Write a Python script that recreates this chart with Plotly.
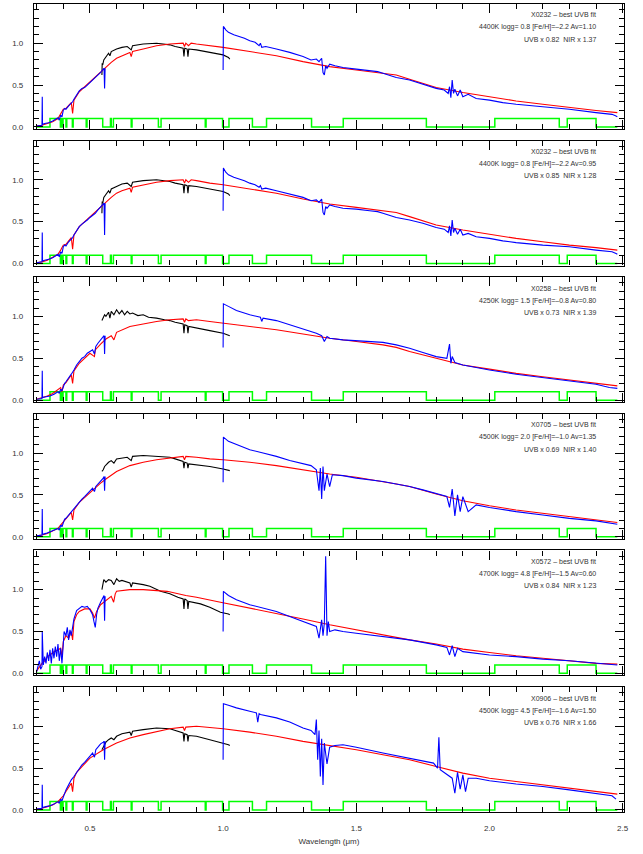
import plotly.graph_objects as go
from plotly.subplots import make_subplots

# ---------------- mask (green step function) ----------------
MASK_W = [0.300, 0.350, 0.389, 0.392, 0.396, 0.399, 0.410, 0.413, 0.434, 0.437,
          0.486, 0.489, 0.548, 0.577, 0.580, 0.588, 0.655, 0.658, 0.757, 0.767,
          0.933, 0.936, 0.998, 1.022, 1.110, 1.163, 1.332, 1.451, 1.763, 2.020,
          2.262, 2.292, 2.400, 2.480]
MASK_F = [0.0, 0.1, 0.0, 0.1, 0.0, 0.1, 0.0, 0.1, 0.0, 0.1,
          0.0, 0.1, 0.0, 0.1, 0.0, 0.1, 0.0, 0.1, 0.0, 0.1,
          0.0, 0.1, 0.0, 0.1, 0.0, 0.1, 0.0, 0.1, 0.0, 0.1,
          0.0, 0.1, 0.0, 0.0]

# ---------------- panel 1 : X0232 ----------------
P1_LABEL = ["X0232 \u2013 best UVB fit", "4400K logg= 0.8 [Fe/H]=\u20132.2 Av=1.10", "UVB x 0.82  NIR x 1.37"]
P1_BLUE_UVB_W = [0.300, 0.315, 0.320, 0.321, 0.322, 0.330, 0.345, 0.360, 0.370, 0.380, 0.385, 0.390, 0.395, 0.400, 0.405, 0.410, 0.420, 0.430, 0.435, 0.440, 0.450, 0.460, 0.470, 0.480, 0.490, 0.500, 0.510, 0.520, 0.530, 0.540, 0.550, 0.553, 0.555, 0.557]
P1_BLUE_UVB_F = [0.01, 0.02, 0.02, 0.36, 0.03, 0.04, 0.05, 0.07, 0.09, 0.11, 0.08, 0.14, 0.12, 0.20, 0.22, 0.21, 0.25, 0.28, 0.30, 0.33, 0.38, 0.43, 0.46, 0.47, 0.50, 0.53, 0.55, 0.58, 0.62, 0.65, 0.69, 0.70, 0.46, 0.70]
P1_BLACK_W = [0.545, 0.546, 0.548, 0.552, 0.560, 0.570, 0.575, 0.580, 0.600, 0.620, 0.640, 0.655, 0.660, 0.700, 0.750, 0.780, 0.800, 0.820, 0.850, 0.853, 0.856, 0.865, 0.868, 0.871, 0.900, 0.950, 1.000, 1.020, 1.025]
P1_BLACK_F = [0.62, 0.76, 0.74, 0.80, 0.84, 0.88, 0.85, 0.90, 0.93, 0.95, 0.96, 0.92, 0.97, 0.99, 1.00, 0.99, 0.98, 0.96, 0.94, 0.84, 0.94, 0.93, 0.84, 0.93, 0.92, 0.89, 0.86, 0.83, 0.81]
P1_RED_W = [0.300, 0.320, 0.340, 0.360, 0.380, 0.390, 0.400, 0.410, 0.420, 0.430, 0.435, 0.440, 0.460, 0.480, 0.500, 0.520, 0.540, 0.560, 0.580, 0.600, 0.620, 0.650, 0.655, 0.660, 0.700, 0.750, 0.800, 0.850, 0.855, 0.860, 0.870, 0.880, 0.900, 0.950, 1.000, 1.100, 1.200, 1.300, 1.360, 1.400, 1.500, 1.600, 1.650, 1.700, 1.800, 1.900, 2.000, 2.100, 2.200, 2.300, 2.400, 2.480]
P1_RED_F = [0.01, 0.02, 0.04, 0.06, 0.10, 0.15, 0.21, 0.22, 0.25, 0.29, 0.16, 0.32, 0.42, 0.48, 0.53, 0.59, 0.66, 0.72, 0.77, 0.82, 0.85, 0.89, 0.84, 0.90, 0.93, 0.97, 0.99, 1.00, 0.96, 1.00, 0.97, 1.00, 0.99, 0.97, 0.95, 0.90, 0.85, 0.78, 0.74, 0.72, 0.68, 0.645, 0.62, 0.57, 0.47, 0.41, 0.36, 0.31, 0.27, 0.23, 0.195, 0.17]
P1_BLUE_NIR_W = [1.000, 1.001, 1.010, 1.020, 1.040, 1.060, 1.080, 1.100, 1.120, 1.135, 1.140, 1.145, 1.160, 1.200, 1.250, 1.300, 1.330, 1.350, 1.360, 1.370, 1.375, 1.380, 1.385, 1.390, 1.400, 1.420, 1.450, 1.500, 1.550, 1.580, 1.600, 1.650, 1.700, 1.750, 1.800, 1.830, 1.845, 1.850, 1.855, 1.860, 1.865, 1.870, 1.880, 1.890, 1.900, 1.920, 1.950, 2.000, 2.050, 2.100, 2.200, 2.300, 2.400, 2.460, 2.475, 2.480]
P1_BLUE_NIR_F = [0.68, 1.20, 1.16, 1.13, 1.10, 1.08, 1.06, 1.03, 1.01, 0.97, 1.00, 0.95, 0.96, 0.93, 0.89, 0.84, 0.80, 0.81, 0.78, 0.82, 0.65, 0.62, 0.73, 0.70, 0.75, 0.73, 0.71, 0.69, 0.67, 0.66, 0.64, 0.59, 0.56, 0.51, 0.46, 0.44, 0.40, 0.48, 0.35, 0.56, 0.40, 0.45, 0.37, 0.44, 0.36, 0.39, 0.34, 0.32, 0.29, 0.27, 0.24, 0.21, 0.17, 0.15, 0.13, 0.12]

# ---------------- panel 2 : X0232 ----------------
P2_LABEL = ["X0232 \u2013 best UVB fit", "4400K logg= 0.8 [Fe/H]=\u20132.2 Av=0.95", "UVB x 0.85  NIR x 1.28"]
P2_BLUE_UVB_W = [0.300, 0.315, 0.320, 0.321, 0.322, 0.330, 0.345, 0.360, 0.370, 0.380, 0.385, 0.390, 0.395, 0.400, 0.405, 0.410, 0.420, 0.430, 0.435, 0.440, 0.450, 0.460, 0.470, 0.480, 0.490, 0.500, 0.510, 0.520, 0.530, 0.540, 0.550, 0.553, 0.555, 0.557]
P2_BLUE_UVB_F = [0.01, 0.02, 0.02, 0.37, 0.03, 0.04, 0.05, 0.07, 0.09, 0.11, 0.08, 0.14, 0.12, 0.20, 0.22, 0.21, 0.26, 0.29, 0.31, 0.34, 0.39, 0.44, 0.47, 0.49, 0.52, 0.55, 0.57, 0.60, 0.64, 0.67, 0.71, 0.72, 0.34, 0.72]
P2_BLACK_W = [0.545, 0.546, 0.548, 0.552, 0.560, 0.570, 0.575, 0.580, 0.600, 0.620, 0.640, 0.655, 0.660, 0.700, 0.750, 0.780, 0.800, 0.820, 0.850, 0.853, 0.856, 0.865, 0.868, 0.871, 0.900, 0.950, 1.000, 1.020, 1.025]
P2_BLACK_F = [0.60, 0.74, 0.72, 0.79, 0.83, 0.87, 0.84, 0.89, 0.92, 0.95, 0.96, 0.92, 0.97, 0.99, 1.00, 0.99, 0.98, 0.96, 0.94, 0.84, 0.94, 0.93, 0.84, 0.93, 0.92, 0.89, 0.86, 0.83, 0.81]
P2_RED_W = [0.300, 0.320, 0.340, 0.360, 0.380, 0.390, 0.400, 0.410, 0.420, 0.430, 0.435, 0.440, 0.460, 0.480, 0.500, 0.520, 0.540, 0.560, 0.580, 0.600, 0.620, 0.650, 0.655, 0.660, 0.700, 0.750, 0.800, 0.850, 0.855, 0.860, 0.870, 0.880, 0.900, 0.950, 1.000, 1.100, 1.200, 1.300, 1.360, 1.400, 1.500, 1.600, 1.650, 1.700, 1.800, 1.900, 2.000, 2.100, 2.200, 2.300, 2.400, 2.480]
P2_RED_F = [0.01, 0.02, 0.04, 0.07, 0.11, 0.16, 0.22, 0.23, 0.27, 0.31, 0.17, 0.34, 0.44, 0.50, 0.55, 0.61, 0.68, 0.74, 0.79, 0.84, 0.87, 0.90, 0.85, 0.91, 0.94, 0.97, 0.99, 1.00, 0.96, 1.00, 0.97, 1.00, 0.99, 0.96, 0.94, 0.89, 0.84, 0.77, 0.73, 0.71, 0.67, 0.635, 0.61, 0.56, 0.46, 0.40, 0.35, 0.30, 0.26, 0.22, 0.19, 0.16]
P2_BLUE_NIR_W = [1.000, 1.001, 1.010, 1.020, 1.040, 1.060, 1.080, 1.100, 1.120, 1.135, 1.140, 1.145, 1.160, 1.200, 1.250, 1.300, 1.330, 1.350, 1.360, 1.370, 1.375, 1.380, 1.385, 1.390, 1.400, 1.420, 1.450, 1.500, 1.550, 1.580, 1.600, 1.650, 1.700, 1.750, 1.800, 1.830, 1.845, 1.850, 1.855, 1.860, 1.865, 1.870, 1.880, 1.890, 1.900, 1.920, 1.950, 2.000, 2.050, 2.100, 2.200, 2.300, 2.400, 2.460, 2.475, 2.480]
P2_BLUE_NIR_F = [0.63, 1.14, 1.09, 1.06, 1.03, 1.01, 0.99, 0.96, 0.94, 0.91, 0.93, 0.89, 0.90, 0.87, 0.83, 0.79, 0.75, 0.76, 0.73, 0.77, 0.61, 0.58, 0.68, 0.66, 0.70, 0.68, 0.66, 0.65, 0.63, 0.62, 0.60, 0.55, 0.52, 0.48, 0.43, 0.41, 0.37, 0.45, 0.33, 0.52, 0.37, 0.42, 0.35, 0.41, 0.34, 0.36, 0.32, 0.30, 0.27, 0.25, 0.22, 0.20, 0.16, 0.14, 0.12, 0.11]

# ---------------- panel 3 : X0258 ----------------
P3_LABEL = ["X0258 \u2013 best UVB fit", "4250K logg= 1.5 [Fe/H]=\u20130.8 Av=0.80", "UVB x 0.73  NIR x 1.39"]
P3_BLUE_UVB_W = [0.300, 0.315, 0.320, 0.321, 0.322, 0.335, 0.350, 0.365, 0.380, 0.385, 0.390, 0.395, 0.400, 0.405, 0.410, 0.420, 0.430, 0.440, 0.450, 0.460, 0.470, 0.480, 0.490, 0.500, 0.510, 0.517, 0.522, 0.530, 0.540, 0.550, 0.553, 0.555, 0.557]
P3_BLUE_UVB_F = [0.01, 0.02, 0.02, 0.35, 0.03, 0.04, 0.05, 0.07, 0.10, 0.08, 0.13, 0.11, 0.16, 0.20, 0.22, 0.26, 0.31, 0.36, 0.42, 0.46, 0.50, 0.52, 0.56, 0.58, 0.60, 0.55, 0.64, 0.68, 0.72, 0.75, 0.77, 0.55, 0.77]
P3_BLACK_W = [0.545, 0.550, 0.555, 0.560, 0.570, 0.575, 0.580, 0.590, 0.600, 0.610, 0.620, 0.630, 0.640, 0.650, 0.660, 0.680, 0.700, 0.720, 0.750, 0.780, 0.800, 0.820, 0.850, 0.853, 0.856, 0.865, 0.868, 0.871, 0.900, 0.950, 1.000, 1.020, 1.025]
P3_BLACK_F = [0.95, 0.98, 1.02, 1.00, 1.05, 0.98, 1.06, 1.02, 1.08, 1.03, 1.07, 1.02, 1.06, 1.03, 1.04, 1.01, 1.02, 0.99, 0.98, 0.96, 0.95, 0.93, 0.91, 0.80, 0.90, 0.89, 0.80, 0.88, 0.86, 0.83, 0.80, 0.78, 0.77]
P3_RED_W = [0.300, 0.320, 0.340, 0.360, 0.380, 0.390, 0.395, 0.400, 0.410, 0.420, 0.430, 0.435, 0.440, 0.460, 0.480, 0.500, 0.517, 0.520, 0.540, 0.560, 0.580, 0.590, 0.600, 0.620, 0.650, 0.700, 0.750, 0.800, 0.850, 0.855, 0.860, 0.870, 0.900, 0.950, 1.000, 1.100, 1.200, 1.300, 1.400, 1.500, 1.600, 1.650, 1.700, 1.800, 1.900, 2.000, 2.100, 2.200, 2.300, 2.400, 2.480]
P3_RED_F = [0.01, 0.03, 0.05, 0.08, 0.12, 0.15, 0.10, 0.18, 0.21, 0.25, 0.30, 0.20, 0.35, 0.44, 0.50, 0.56, 0.52, 0.60, 0.67, 0.73, 0.77, 0.72, 0.81, 0.84, 0.88, 0.91, 0.94, 0.96, 0.97, 0.93, 0.97, 0.95, 0.96, 0.94, 0.92, 0.88, 0.84, 0.79, 0.74, 0.70, 0.66, 0.63, 0.58, 0.50, 0.42, 0.37, 0.32, 0.28, 0.24, 0.20, 0.17]
P3_BLUE_NIR_W = [1.000, 1.001, 1.020, 1.050, 1.100, 1.140, 1.145, 1.150, 1.200, 1.250, 1.300, 1.350, 1.370, 1.380, 1.390, 1.400, 1.450, 1.500, 1.550, 1.600, 1.650, 1.700, 1.750, 1.800, 1.840, 1.850, 1.855, 1.860, 1.870, 1.900, 1.950, 2.000, 2.100, 2.200, 2.300, 2.350, 2.400, 2.450, 2.480]
P3_BLUE_NIR_F = [0.63, 1.15, 1.12, 1.07, 1.02, 0.99, 0.94, 0.98, 0.95, 0.90, 0.85, 0.80, 0.77, 0.70, 0.76, 0.74, 0.72, 0.71, 0.70, 0.69, 0.66, 0.62, 0.57, 0.52, 0.50, 0.67, 0.44, 0.52, 0.45, 0.42, 0.39, 0.36, 0.31, 0.27, 0.23, 0.21, 0.19, 0.15, 0.14]

# ---------------- panel 4 : X0705 ----------------
P4_LABEL = ["X0705 \u2013 best UVB fit", "4500K logg= 2.0 [Fe/H]=\u20131.0 Av=1.35", "UVB x 0.69  NIR x 1.40"]
P4_BLUE_UVB_W = [0.300, 0.315, 0.320, 0.321, 0.322, 0.335, 0.350, 0.365, 0.380, 0.385, 0.390, 0.395, 0.400, 0.405, 0.410, 0.420, 0.430, 0.440, 0.450, 0.460, 0.470, 0.480, 0.490, 0.500, 0.510, 0.517, 0.522, 0.530, 0.540, 0.550, 0.553, 0.555, 0.557]
P4_BLUE_UVB_F = [0.01, 0.02, 0.02, 0.33, 0.03, 0.04, 0.06, 0.08, 0.10, 0.08, 0.14, 0.12, 0.18, 0.21, 0.22, 0.26, 0.30, 0.33, 0.38, 0.42, 0.45, 0.48, 0.51, 0.55, 0.58, 0.54, 0.60, 0.63, 0.66, 0.70, 0.72, 0.55, 0.72]
P4_BLACK_W = [0.545, 0.550, 0.555, 0.560, 0.570, 0.580, 0.590, 0.600, 0.620, 0.640, 0.655, 0.660, 0.700, 0.750, 0.800, 0.820, 0.850, 0.853, 0.856, 0.865, 0.868, 0.871, 0.900, 0.950, 1.000, 1.020, 1.025]
P4_BLACK_F = [0.78, 0.80, 0.84, 0.86, 0.89, 0.91, 0.88, 0.93, 0.94, 0.95, 0.91, 0.96, 0.97, 0.96, 0.95, 0.93, 0.90, 0.82, 0.89, 0.88, 0.82, 0.87, 0.86, 0.84, 0.81, 0.79, 0.79]
P4_RED_W = [0.300, 0.320, 0.340, 0.360, 0.380, 0.390, 0.400, 0.410, 0.420, 0.430, 0.435, 0.440, 0.460, 0.480, 0.500, 0.520, 0.540, 0.560, 0.580, 0.600, 0.650, 0.700, 0.750, 0.800, 0.850, 0.855, 0.860, 0.900, 0.950, 1.000, 1.100, 1.200, 1.300, 1.400, 1.500, 1.600, 1.650, 1.700, 1.800, 1.900, 2.000, 2.100, 2.200, 2.300, 2.400, 2.480]
P4_RED_F = [0.01, 0.02, 0.04, 0.07, 0.10, 0.14, 0.18, 0.21, 0.25, 0.29, 0.20, 0.32, 0.41, 0.47, 0.53, 0.58, 0.64, 0.69, 0.74, 0.78, 0.85, 0.89, 0.92, 0.94, 0.96, 0.92, 0.96, 0.95, 0.93, 0.92, 0.89, 0.85, 0.80, 0.75, 0.71, 0.66, 0.63, 0.60, 0.51, 0.43, 0.37, 0.32, 0.28, 0.24, 0.20, 0.17]
P4_BLUE_NIR_W = [1.000, 1.001, 1.020, 1.050, 1.100, 1.150, 1.200, 1.250, 1.300, 1.330, 1.350, 1.360, 1.365, 1.370, 1.375, 1.380, 1.390, 1.400, 1.410, 1.450, 1.500, 1.550, 1.600, 1.650, 1.700, 1.750, 1.800, 1.840, 1.850, 1.860, 1.870, 1.880, 1.890, 1.900, 1.920, 1.950, 2.000, 2.100, 2.200, 2.300, 2.400, 2.450, 2.480]
P4_BLUE_NIR_F = [0.65, 1.19, 1.14, 1.10, 1.04, 1.00, 0.96, 0.91, 0.87, 0.85, 0.80, 0.55, 0.82, 0.45, 0.84, 0.55, 0.75, 0.60, 0.74, 0.73, 0.70, 0.68, 0.66, 0.63, 0.60, 0.56, 0.52, 0.48, 0.35, 0.57, 0.25, 0.50, 0.30, 0.48, 0.30, 0.38, 0.35, 0.30, 0.26, 0.22, 0.19, 0.17, 0.15]

# ---------------- panel 5 : X0572 ----------------
P5_LABEL = ["X0572 \u2013 best UVB fit", "4700K logg= 4.8 [Fe/H]=\u20131.5 Av=0.60", "UVB x 0.84  NIR x 1.23"]
P5_BLUE_UVB_W = [0.300, 0.310, 0.315, 0.320, 0.321, 0.325, 0.330, 0.335, 0.340, 0.345, 0.350, 0.355, 0.360, 0.365, 0.370, 0.375, 0.380, 0.385, 0.390, 0.395, 0.400, 0.403, 0.410, 0.415, 0.420, 0.425, 0.430, 0.440, 0.450, 0.460, 0.470, 0.480, 0.490, 0.500, 0.510, 0.515, 0.520, 0.525, 0.530, 0.540, 0.550, 0.553, 0.555, 0.557]
P5_BLUE_UVB_F = [0.02, 0.15, 0.05, 0.08, 0.50, 0.10, 0.20, 0.12, 0.25, 0.15, 0.28, 0.12, 0.30, 0.18, 0.32, 0.20, 0.35, 0.15, 0.30, 0.12, 0.35, 0.50, 0.45, 0.55, 0.40, 0.52, 0.45, 0.65, 0.75, 0.78, 0.80, 0.79, 0.80, 0.76, 0.70, 0.62, 0.55, 0.70, 0.78, 0.85, 0.90, 0.93, 0.63, 0.92]
P5_BLACK_W = [0.545, 0.548, 0.552, 0.560, 0.570, 0.580, 0.590, 0.600, 0.610, 0.620, 0.650, 0.655, 0.660, 0.700, 0.725, 0.765, 0.800, 0.830, 0.850, 0.853, 0.856, 0.865, 0.868, 0.871, 0.915, 0.950, 0.990, 1.020, 1.025]
P5_BLACK_F = [1.00, 1.08, 1.12, 1.09, 1.12, 1.11, 1.06, 1.13, 1.10, 1.11, 1.08, 1.03, 1.08, 1.06, 1.04, 0.98, 0.95, 0.91, 0.89, 0.77, 0.89, 0.87, 0.77, 0.86, 0.83, 0.79, 0.73, 0.71, 0.70]
P5_RED_W = [0.300, 0.310, 0.320, 0.330, 0.340, 0.350, 0.360, 0.370, 0.380, 0.390, 0.395, 0.400, 0.410, 0.420, 0.430, 0.435, 0.440, 0.450, 0.460, 0.480, 0.500, 0.510, 0.517, 0.525, 0.540, 0.560, 0.580, 0.589, 0.595, 0.600, 0.650, 0.700, 0.750, 0.790, 0.860, 0.900, 0.990, 1.100, 1.200, 1.300, 1.400, 1.500, 1.600, 1.700, 1.800, 1.900, 2.000, 2.100, 2.200, 2.300, 2.400, 2.480]
P5_RED_F = [0.03, 0.08, 0.12, 0.15, 0.20, 0.22, 0.25, 0.27, 0.28, 0.30, 0.20, 0.38, 0.45, 0.42, 0.50, 0.40, 0.62, 0.70, 0.74, 0.77, 0.77, 0.72, 0.66, 0.74, 0.82, 0.87, 0.92, 0.85, 0.95, 0.98, 1.00, 1.00, 0.99, 0.98, 0.93, 0.91, 0.85, 0.78, 0.72, 0.65, 0.58, 0.52, 0.46, 0.40, 0.35, 0.29, 0.25, 0.21, 0.18, 0.15, 0.12, 0.11]
P5_BLUE_NIR_W = [1.000, 1.001, 1.020, 1.050, 1.100, 1.150, 1.200, 1.250, 1.300, 1.350, 1.360, 1.370, 1.375, 1.380, 1.385, 1.390, 1.395, 1.400, 1.420, 1.450, 1.500, 1.550, 1.600, 1.700, 1.800, 1.840, 1.850, 1.860, 1.870, 1.880, 1.900, 2.000, 2.100, 2.200, 2.300, 2.400, 2.480]
P5_BLUE_NIR_F = [0.50, 0.98, 0.93, 0.88, 0.82, 0.78, 0.74, 0.68, 0.62, 0.56, 0.42, 0.64, 0.45, 0.60, 1.40, 0.45, 0.62, 0.50, 0.52, 0.50, 0.48, 0.46, 0.44, 0.40, 0.34, 0.31, 0.22, 0.33, 0.20, 0.30, 0.26, 0.22, 0.20, 0.17, 0.15, 0.12, 0.10]

# ---------------- panel 6 : X0906 ----------------
P6_LABEL = ["X0906 \u2013 best UVB fit", "4500K logg= 4.5 [Fe/H]=\u20131.6 Av=1.50", "UVB x 0.76  NIR x 1.66"]
P6_BLUE_UVB_W = [0.300, 0.315, 0.320, 0.321, 0.322, 0.335, 0.350, 0.365, 0.380, 0.385, 0.390, 0.395, 0.400, 0.405, 0.410, 0.420, 0.430, 0.440, 0.450, 0.460, 0.470, 0.480, 0.490, 0.500, 0.510, 0.517, 0.522, 0.530, 0.540, 0.550, 0.553, 0.555, 0.557]
P6_BLUE_UVB_F = [0.01, 0.02, 0.02, 0.30, 0.03, 0.04, 0.05, 0.07, 0.10, 0.08, 0.13, 0.11, 0.16, 0.20, 0.24, 0.30, 0.36, 0.40, 0.45, 0.50, 0.54, 0.57, 0.61, 0.65, 0.68, 0.63, 0.72, 0.75, 0.79, 0.81, 0.82, 0.60, 0.82]
P6_BLACK_W = [0.545, 0.550, 0.555, 0.560, 0.570, 0.580, 0.590, 0.600, 0.620, 0.650, 0.655, 0.660, 0.700, 0.750, 0.800, 0.820, 0.850, 0.853, 0.856, 0.865, 0.868, 0.871, 0.900, 0.950, 1.000, 1.020, 1.025]
P6_BLACK_F = [0.72, 0.75, 0.79, 0.81, 0.84, 0.86, 0.84, 0.88, 0.91, 0.93, 0.89, 0.94, 0.96, 0.98, 0.97, 0.95, 0.92, 0.82, 0.91, 0.90, 0.82, 0.89, 0.88, 0.84, 0.80, 0.78, 0.77]
P6_RED_W = [0.300, 0.320, 0.340, 0.360, 0.380, 0.390, 0.400, 0.410, 0.420, 0.430, 0.435, 0.440, 0.450, 0.500, 0.550, 0.600, 0.650, 0.700, 0.800, 0.850, 0.855, 0.860, 0.900, 1.000, 1.100, 1.200, 1.300, 1.400, 1.500, 1.600, 1.700, 1.800, 1.900, 2.000, 2.100, 2.200, 2.300, 2.400, 2.480]
P6_RED_F = [0.01, 0.02, 0.04, 0.06, 0.10, 0.13, 0.17, 0.22, 0.27, 0.32, 0.22, 0.38, 0.45, 0.62, 0.72, 0.80, 0.86, 0.90, 0.97, 0.99, 0.95, 0.99, 1.00, 0.97, 0.93, 0.88, 0.82, 0.77, 0.72, 0.66, 0.60, 0.52, 0.44, 0.38, 0.34, 0.30, 0.26, 0.22, 0.19]
P6_BLUE_NIR_W = [1.000, 1.001, 1.020, 1.050, 1.100, 1.125, 1.130, 1.135, 1.140, 1.200, 1.250, 1.300, 1.330, 1.345, 1.350, 1.355, 1.360, 1.365, 1.370, 1.375, 1.380, 1.390, 1.400, 1.420, 1.450, 1.500, 1.600, 1.700, 1.790, 1.805, 1.810, 1.815, 1.840, 1.860, 1.870, 1.880, 1.890, 1.900, 1.910, 1.920, 1.950, 2.000, 2.100, 2.200, 2.300, 2.400, 2.460, 2.475]
P6_BLUE_NIR_F = [0.60, 1.27, 1.25, 1.22, 1.18, 1.16, 1.05, 1.15, 1.14, 1.10, 1.05, 0.98, 0.95, 0.90, 1.08, 0.60, 0.95, 0.40, 0.85, 0.30, 0.80, 0.55, 0.75, 0.77, 0.78, 0.75, 0.68, 0.62, 0.56, 0.50, 0.87, 0.48, 0.42, 0.38, 0.20, 0.45, 0.25, 0.42, 0.22, 0.38, 0.38, 0.35, 0.31, 0.28, 0.24, 0.20, 0.17, 0.13]

PANELS = [
    (P1_LABEL, P1_BLACK_W, P1_BLACK_F, P1_RED_W, P1_RED_F, P1_BLUE_UVB_W, P1_BLUE_UVB_F, P1_BLUE_NIR_W, P1_BLUE_NIR_F),
    (P2_LABEL, P2_BLACK_W, P2_BLACK_F, P2_RED_W, P2_RED_F, P2_BLUE_UVB_W, P2_BLUE_UVB_F, P2_BLUE_NIR_W, P2_BLUE_NIR_F),
    (P3_LABEL, P3_BLACK_W, P3_BLACK_F, P3_RED_W, P3_RED_F, P3_BLUE_UVB_W, P3_BLUE_UVB_F, P3_BLUE_NIR_W, P3_BLUE_NIR_F),
    (P4_LABEL, P4_BLACK_W, P4_BLACK_F, P4_RED_W, P4_RED_F, P4_BLUE_UVB_W, P4_BLUE_UVB_F, P4_BLUE_NIR_W, P4_BLUE_NIR_F),
    (P5_LABEL, P5_BLACK_W, P5_BLACK_F, P5_RED_W, P5_RED_F, P5_BLUE_UVB_W, P5_BLUE_UVB_F, P5_BLUE_NIR_W, P5_BLUE_NIR_F),
    (P6_LABEL, P6_BLACK_W, P6_BLACK_F, P6_RED_W, P6_RED_F, P6_BLUE_UVB_W, P6_BLUE_UVB_F, P6_BLUE_NIR_W, P6_BLUE_NIR_F),
]

FONT = "Liberation Sans, Arial, sans-serif"
TXT = "#333333"

fig = make_subplots(rows=6, cols=1, shared_xaxes=True, vertical_spacing=0.0145)

for i, (lab, bw, bf, rw, rf, uw, uf, nw, nf) in enumerate(PANELS, start=1):
    fig.add_trace(go.Scatter(x=MASK_W, y=MASK_F, mode="lines", line=dict(color="#00ff00", width=1.5, shape="hv"),
                             showlegend=False, hoverinfo="skip"), row=i, col=1)
    fig.add_trace(go.Scatter(x=bw, y=bf, mode="lines", line=dict(color="black", width=1.1),
                             showlegend=False), row=i, col=1)
    fig.add_trace(go.Scatter(x=rw, y=rf, mode="lines", line=dict(color="#ff0000", width=1.1),
                             showlegend=False), row=i, col=1)
    fig.add_trace(go.Scatter(x=uw, y=uf, mode="lines", line=dict(color="#0000ff", width=1.1),
                             showlegend=False), row=i, col=1)
    fig.add_trace(go.Scatter(x=nw, y=nf, mode="lines", line=dict(color="#0000ff", width=1.1),
                             showlegend=False), row=i, col=1)
    xref = "x domain" if i == 1 else f"x{i} domain"
    yref = "y domain" if i == 1 else f"y{i} domain"
    for txt, yy in zip(lab, [0.912, 0.812, 0.718]):
        fig.add_annotation(text=txt, x=0.956, y=yy, xref=xref, yref=yref, xanchor="right", yanchor="middle",
                           showarrow=False, font=dict(family=FONT, size=7, color=TXT))
    fig.update_yaxes(range=[-0.024, 1.468], dtick=0.5, tick0=0, tickformat=".1f",
                     ticks="inside", ticklen=9, tickwidth=1, tickcolor="black",
                     minor=dict(dtick=0.1, tick0=0, ticks="inside", ticklen=5, tickwidth=1, tickcolor="black"),
                     showline=True, linecolor="black", linewidth=1.2, mirror="allticks",
                     showgrid=False, zeroline=False, ticklabelstandoff=8, automargin=False,
                     tickfont=dict(family=FONT, size=8, color=TXT), row=i, col=1)
    fig.update_xaxes(range=[0.29, 2.505], dtick=0.5, tick0=0, tickformat=".1f",
                     ticks="inside", ticklen=9, tickwidth=1, tickcolor="black",
                     minor=dict(dtick=0.1, tick0=0, ticks="inside", ticklen=5, tickwidth=1, tickcolor="black"),
                     showline=True, linecolor="black", linewidth=1.2, mirror="allticks",
                     showgrid=False, zeroline=False, ticklabelstandoff=8, automargin=False,
                     tickfont=dict(family=FONT, size=8, color=TXT), row=i, col=1)

fig.update_xaxes(title=dict(text="Wavelength (\u03bcm)", font=dict(family=FONT, size=8, color=TXT), standoff=6), row=6, col=1)

fig.update_layout(width=643, height=854, margin=dict(l=34, r=19, t=4, b=42),
                  plot_bgcolor="white", paper_bgcolor="white", showlegend=False)

fig.write_html("out.html", config={"displayModeBar": False},
               post_script="document.body.style.margin='0';")
